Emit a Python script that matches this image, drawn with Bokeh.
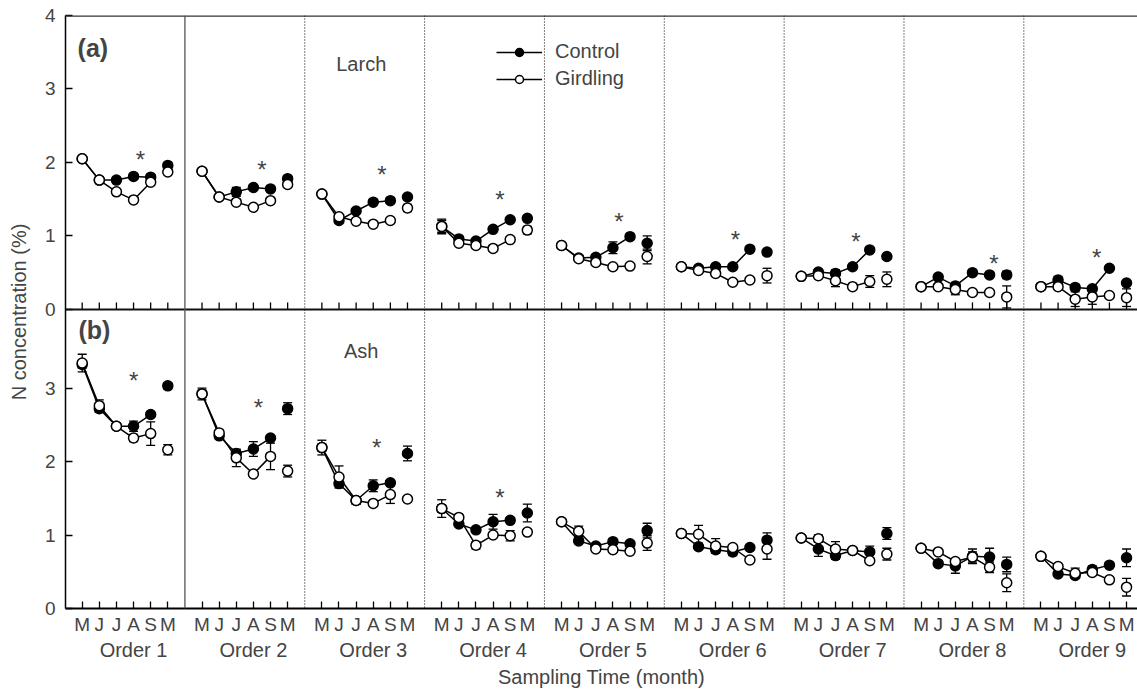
from bokeh.plotting import figure
from bokeh.models import (Range1d, LinearAxis, FixedTicker, Span, Whisker, TeeHead,
                          ColumnDataSource, Legend, LegendItem, Label)
from bokeh.core.properties import value
from bokeh.embed import file_html
from bokeh.resources import INLINE

# ---------------- data ----------------
months = ["M", "J", "J", "A", "S", "M"]
orders = ["Order 1", "Order 2", "Order 3", "Order 4", "Order 5",
          "Order 6", "Order 7", "Order 8", "Order 9"]

# Larch (panel a), N concentration (%) per order: May Jun Jul Aug Sep | May(next year)
larch_control = [
    [2.05, 1.76, 1.76, 1.81, 1.80, 1.96],
    [1.88, 1.53, 1.60, 1.66, 1.64, 1.78],
    [1.57, 1.21, 1.34, 1.46, 1.48, 1.53],
    [1.13, 0.96, 0.93, 1.09, 1.22, 1.24],
    [0.87, 0.70, 0.71, 0.84, 0.99, 0.90],
    [0.58, 0.56, 0.58, 0.58, 0.82, 0.78],
    [0.45, 0.51, 0.49, 0.58, 0.81, 0.72],
    [0.31, 0.44, 0.32, 0.50, 0.47, 0.47],
    [0.31, 0.40, 0.30, 0.28, 0.56, 0.36],
]
larch_control_err = [
    [0.03, 0.03, 0.03, 0.03, 0.03, 0.03],
    [0.04, 0.03, 0.06, 0.03, 0.03, 0.03],
    [0.03, 0.03, 0.03, 0.03, 0.03, 0.03],
    [0.08, 0.03, 0.03, 0.03, 0.03, 0.03],
    [0.03, 0.03, 0.03, 0.08, 0.03, 0.10],
    [0.03, 0.03, 0.03, 0.03, 0.03, 0.03],
    [0.03, 0.03, 0.05, 0.03, 0.03, 0.03],
    [0.03, 0.03, 0.03, 0.03, 0.03, 0.05],
    [0.03, 0.05, 0.03, 0.03, 0.03, 0.03],
]
larch_girdling = [
    [2.05, 1.76, 1.60, 1.49, 1.73, 1.87],
    [1.88, 1.53, 1.46, 1.39, 1.48, 1.70],
    [1.57, 1.26, 1.20, 1.16, 1.21, 1.38],
    [1.13, 0.90, 0.87, 0.83, 0.95, 1.08],
    [0.87, 0.69, 0.64, 0.58, 0.59, 0.72],
    [0.58, 0.53, 0.49, 0.37, 0.40, 0.46],
    [0.45, 0.46, 0.39, 0.31, 0.38, 0.41],
    [0.31, 0.31, 0.27, 0.23, 0.23, 0.17],
    [0.31, 0.31, 0.14, 0.17, 0.19, 0.16],
]
larch_girdling_err = [
    [0.03, 0.03, 0.03, 0.03, 0.04, 0.03],
    [0.03, 0.03, 0.03, 0.03, 0.03, 0.03],
    [0.03, 0.03, 0.03, 0.03, 0.03, 0.05],
    [0.10, 0.03, 0.03, 0.03, 0.03, 0.05],
    [0.03, 0.03, 0.03, 0.03, 0.03, 0.10],
    [0.04, 0.03, 0.03, 0.03, 0.03, 0.10],
    [0.03, 0.03, 0.08, 0.03, 0.08, 0.10],
    [0.03, 0.03, 0.07, 0.03, 0.03, 0.15],
    [0.04, 0.03, 0.10, 0.10, 0.03, 0.12],
]

# Ash (panel b)
ash_control = [
    [3.32, 2.72, 2.48, 2.48, 2.64, 3.03],
    [2.92, 2.35, 2.11, 2.17, 2.32, 2.72],
    [2.19, 1.70, 1.47, 1.67, 1.71, 2.11],
    [1.36, 1.15, 1.07, 1.18, 1.20, 1.30],
    [1.18, 0.92, 0.85, 0.91, 0.88, 1.06],
    [1.02, 0.84, 0.80, 0.77, 0.83, 0.93],
    [0.96, 0.81, 0.72, 0.79, 0.77, 1.02],
    [0.82, 0.61, 0.58, 0.71, 0.70, 0.60],
    [0.71, 0.47, 0.45, 0.53, 0.59, 0.69],
]
ash_control_err = [
    [0.05, 0.05, 0.04, 0.07, 0.03, 0.04],
    [0.05, 0.04, 0.05, 0.10, 0.03, 0.08],
    [0.05, 0.03, 0.05, 0.08, 0.03, 0.10],
    [0.05, 0.03, 0.03, 0.10, 0.03, 0.12],
    [0.03, 0.03, 0.03, 0.03, 0.03, 0.10],
    [0.03, 0.03, 0.03, 0.05, 0.03, 0.10],
    [0.03, 0.10, 0.05, 0.03, 0.08, 0.08],
    [0.03, 0.03, 0.10, 0.10, 0.12, 0.10],
    [0.03, 0.03, 0.03, 0.05, 0.03, 0.12],
]
ash_girdling = [
    [3.34, 2.76, 2.48, 2.32, 2.38, 2.16],
    [2.92, 2.39, 2.05, 1.83, 2.07, 1.87],
    [2.19, 1.79, 1.47, 1.43, 1.55, 1.49],
    [1.36, 1.24, 0.86, 1.00, 0.99, 1.04],
    [1.18, 1.05, 0.81, 0.80, 0.78, 0.89],
    [1.02, 1.01, 0.85, 0.83, 0.66, 0.81],
    [0.96, 0.95, 0.81, 0.79, 0.65, 0.74],
    [0.82, 0.77, 0.64, 0.70, 0.56, 0.35],
    [0.71, 0.57, 0.48, 0.49, 0.39, 0.29],
]
ash_girdling_err = [
    [0.12, 0.08, 0.04, 0.05, 0.16, 0.07],
    [0.08, 0.04, 0.12, 0.03, 0.18, 0.08],
    [0.10, 0.15, 0.05, 0.03, 0.12, 0.03],
    [0.12, 0.03, 0.05, 0.03, 0.07, 0.03],
    [0.03, 0.07, 0.03, 0.03, 0.03, 0.10],
    [0.03, 0.12, 0.10, 0.03, 0.03, 0.14],
    [0.03, 0.05, 0.10, 0.03, 0.03, 0.08],
    [0.03, 0.03, 0.03, 0.07, 0.07, 0.12],
    [0.03, 0.03, 0.07, 0.03, 0.03, 0.12],
]

# significance asterisks: (order index, position within order, N value)
larch_star_order = [0, 1, 2, 3, 4, 5, 6, 7, 8]
larch_star_pos = [3.4, 3.5, 3.5, 3.4, 3.35, 3.15, 3.2, 4.25, 3.25]
larch_star_val = [2.23, 2.09, 2.02, 1.69, 1.39, 1.14, 1.11, 0.82, 0.90]
ash_star_order = [0, 1, 2, 3]
ash_star_pos = [3.0, 3.3, 3.2, 3.4]
ash_star_val = [3.29, 2.92, 2.38, 1.70]

# ---------------- layout constants ----------------
GROUP = 7            # slots per order (6 months + gap)
A_ZERO = 4.07        # where panel (a)'s zero sits on the shared frame
FONT = "Liberation Sans"

p = figure(width=1137, height=690, output_backend="svg", toolbar_location=None,
           x_range=Range1d(-0.975, 61.64), y_range=Range1d(0, A_ZERO + 4.0),
           min_border_left=65, min_border_right=0, min_border_top=15, min_border_bottom=0)
p.extra_y_ranges = {"a": Range1d(-A_ZERO, 4.0)}
p.xgrid.visible = False
p.ygrid.visible = False
p.outline_line_color = None
p.background_fill_color = "white"

# x positions of month ticks
xt = [GROUP * g + i for g in range(len(orders)) for i in range(len(months))]

# ---- y axis ----
ya = p.yaxis[0]
yt = [0, 1, 2, 3] + [A_ZERO + k for k in range(5)]
ylabels = ["0", "1", "2", "3", "0", "1", "2", "3", "4"]
ya.ticker = FixedTicker(ticks=yt)
ya.major_label_overrides = {t: l for t, l in zip(yt, ylabels)}
ya.major_tick_in = 7
ya.major_tick_out = 0
ya.minor_tick_line_color = None
ya.axis_line_width = 1.5
ya.major_tick_line_width = 1.3
ya.major_label_standoff = 10
ya.major_label_text_font = FONT
ya.major_label_text_font_size = "19px"
ya.axis_label = "N concentration (%)"
ya.axis_label_text_font = FONT
ya.axis_label_text_font_size = "20px"
ya.axis_label_text_font_style = "normal"
ya.axis_label_standoff = 12

# ---- x axis (months) ----
xa = p.xaxis[0]
xa.ticker = FixedTicker(ticks=xt)
xa.major_label_overrides = {GROUP * g + i: months[i] for g in range(len(orders)) for i in range(len(months))}
xa.major_tick_in = 7
xa.major_tick_out = 0
xa.minor_tick_line_color = None
xa.axis_line_width = 2
xa.major_tick_line_width = 1.3
xa.major_label_standoff = 5
xa.major_label_text_font = FONT
xa.major_label_text_font_size = "19px"

# ---- order labels axis ----
oa = LinearAxis(ticker=FixedTicker(ticks=[GROUP * g + 3 for g in range(len(orders))]),
                major_label_overrides={GROUP * g + 3: orders[g] for g in range(len(orders))},
                axis_line_color=None, major_tick_line_color=None, minor_tick_line_color=None,
                major_label_standoff=-5, major_label_text_font=FONT,
                major_label_text_font_size="20px",
                axis_label="Sampling Time (month)", axis_label_text_font=FONT,
                axis_label_text_font_size="20px", axis_label_text_font_style="normal",
                axis_label_standoff=2)
p.add_layout(oa, "below")

# ---- frame lines ----
p.add_layout(Span(location=A_ZERO + 4.0, dimension="width", line_color="#333333", line_width=2.5))
p.add_layout(Span(location=0, dimension="width", y_range_name="a", line_color="#111111", line_width=2))
p.segment(x0=xt, y0=[0] * len(xt), x1=xt, y1=[7 / 73.4] * len(xt), y_range_name="a",
          line_color="black", line_width=1.3)
for g in range(1, len(orders)):
    loc = GROUP * g - 1
    if g == 1:
        p.add_layout(Span(location=loc, dimension="height", line_color="#555555", line_width=1.3))
    else:
        p.add_layout(Span(location=loc, dimension="height", line_color="black", line_width=1,
                          line_dash="1 2"))


def draw_series(vals, errs, fill, rng):
    x, y, lo, hi = [], [], [], []
    xs, ys = [], []
    for g, (row, erow) in enumerate(zip(vals, errs)):
        for i, (v, e) in enumerate(zip(row, erow)):
            x.append(GROUP * g + i)
            y.append(v)
            lo.append(v - e)
            hi.append(v + e)
        xs.append([GROUP * g + i for i in range(5)])
        ys.append(row[:5])
    src = ColumnDataSource(dict(x=x, y=y, lower=lo, upper=hi))
    w = Whisker(source=src, base="x", lower="lower", upper="upper", dimension="height",
                y_range_name=rng, line_color="black", line_width=1.3,
                upper_head=TeeHead(size=9, line_width=1.3, line_color="black"),
                lower_head=TeeHead(size=9, line_width=1.3, line_color="black"))
    p.add_layout(w)
    ml = p.multi_line(xs=xs, ys=ys, y_range_name=rng, line_color="black", line_width=1.5)
    sc = p.scatter(x="x", y="y", source=src, y_range_name=rng, marker="circle", size=10,
                   fill_color=fill, line_color="black", line_width=1.5)
    return ml, sc


ctrl_a = draw_series(larch_control, larch_control_err, "black", "a")
gird_a = draw_series(larch_girdling, larch_girdling_err, "white", "a")
draw_series(ash_control, ash_control_err, "black", "default")
draw_series(ash_girdling, ash_girdling_err, "white", "default")

# asterisks
p.text(x=[GROUP * o + s for o, s in zip(larch_star_order, larch_star_pos)], y=larch_star_val,
       text=["*"] * len(larch_star_val), y_range_name="a", text_font=value(FONT),
       text_font_size="24px", text_align="center", text_baseline="alphabetic",
       y_offset=14, text_color="#444444")
p.text(x=[GROUP * o + s for o, s in zip(ash_star_order, ash_star_pos)], y=ash_star_val,
       text=["*"] * len(ash_star_val), text_font=value(FONT),
       text_font_size="24px", text_align="center", text_baseline="alphabetic",
       y_offset=14, text_color="#444444")

# panel annotations
p.add_layout(Label(x=-0.27, y=3.56, y_range_name="a", text="(a)", text_font=FONT,
                   text_font_size="25px", text_font_style="bold", text_baseline="middle"))
p.add_layout(Label(x=-0.22, y=3.79, text="(b)", text_font=FONT,
                   text_font_size="25px", text_font_style="bold", text_baseline="middle"))
p.add_layout(Label(x=16.3, y=3.345, y_range_name="a", text="Larch", text_font=FONT,
                   text_font_size="20px", text_align="center", text_baseline="middle"))
p.add_layout(Label(x=16.3, y=3.5, text="Ash", text_font=FONT,
                   text_font_size="20px", text_align="center", text_baseline="middle"))

legend = Legend(items=[LegendItem(label="Control", renderers=list(ctrl_a)),
                       LegendItem(label="Girdling", renderers=list(gird_a))],
                location=(431, 518), border_line_color=None, background_fill_alpha=0,
                padding=0, margin=0, spacing=4, glyph_width=46, glyph_height=20,
                label_height=20, label_standoff=13, label_text_font=FONT,
                label_text_font_size="20px")
p.add_layout(legend)

open("out.html", "w").write(file_html(p, INLINE))
